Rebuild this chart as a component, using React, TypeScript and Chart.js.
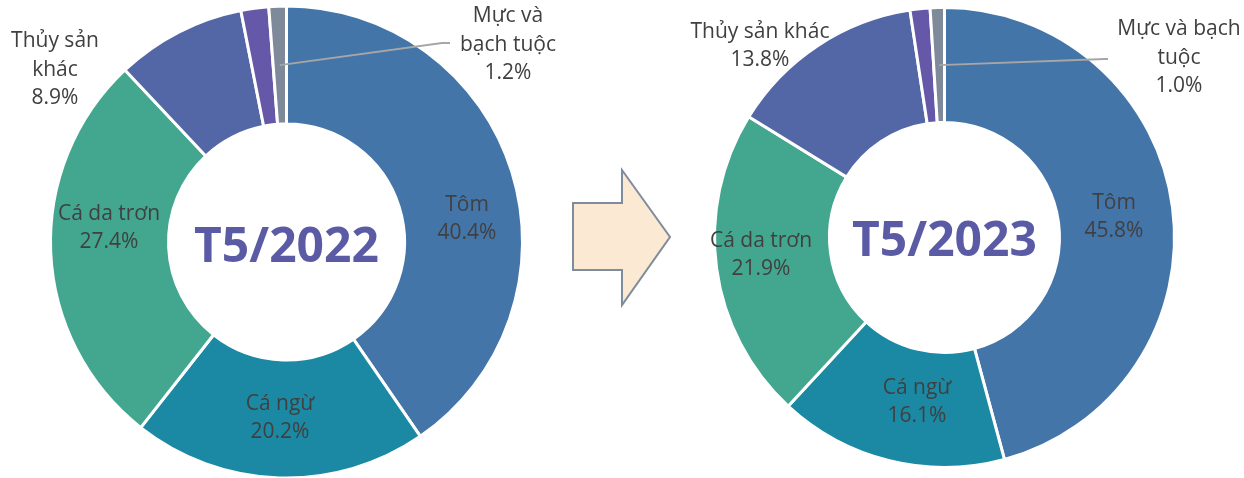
import React, { useEffect, useRef } from "react";
import { Chart, registerables } from "chart.js";

Chart.register(...registerables);

// ---------- data ----------
const categories = ["Tôm", "Cá ngừ", "Cá da trơn", "Thủy sản khác", "Cua ghẹ", "Mực và bạch tuộc"];
const values2022 = [40.4, 20.2, 27.4, 8.9, 1.9, 1.2];
const values2023 = [45.8, 16.1, 21.9, 13.8, 1.4, 1.0];
const titles = ["T5/2022", "T5/2023"];
const labelWrap2022 = [["Tôm"], ["Cá ngừ"], ["Cá da trơn"], ["Thủy sản", "khác"], [], ["Mực và", "bạch tuộc"]];
const labelWrap2023 = [["Tôm"], ["Cá ngừ"], ["Cá da trơn"], ["Thủy sản khác"], [], ["Mực và bạch", "tuộc"]];

// ---------- style / layout ----------
const colors = ["#4475A9", "#1B89A3", "#43A68F", "#5366A6", "#6558A8", "#7E8999"];
const W = 1244;
const H = 478;
const CH = 500;
const FONT = "'Open Sans', 'Noto Sans', sans-serif";

type Layout = {
  padding: { left: number; right: number; top: number; bottom: number };
  labelOffsets: ([number, number] | null)[];
  leader: { index: number; elbow: [number, number]; end: [number, number] };
  titleDy: number;
};

const layouts: Layout[] = [
  {
    padding: { left: 49, right: 720, top: 4.5, bottom: 20.5 },
    labelOffsets: [[180.5, -23], [-6.5, 176], [-177.5, -14], [-231.5, -172], null, [221.5, -197]],
    leader: { index: 5, elbow: [155.5, -199], end: [163.5, -199] },
    titleDy: 20,
  },
  {
    padding: { left: 713, right: 68, top: 6, bottom: 31 },
    labelOffsets: [[169.5, -20.5], [-27.5, 164.5], [-183.5, 17.5], [-184.5, -191.5], null, [234.5, -179.5]],
    leader: { index: 5, elbow: [160, -178.5], end: [163.5, -178.5] },
    titleDy: 18,
  },
];

function makeLabelPlugin(title: string, wrap: string[][], layout: Layout) {
  return {
    id: "donutLabels",
    afterDatasetsDraw(chart: any) {
      const ctx = chart.ctx as CanvasRenderingContext2D;
      const meta = chart.getDatasetMeta(0);
      const arcs = meta.data;
      if (!arcs.length) return;
      const cx = arcs[0].x;
      const cy = arcs[0].y;
      const data = chart.data.datasets[0].data as number[];
      ctx.save();

      // leader line
      const la = arcs[layout.leader.index];
      const p = la.tooltipPosition(false);
      ctx.strokeStyle = "#A6A6A6";
      ctx.lineWidth = 1.8;
      ctx.beginPath();
      ctx.moveTo(p.x, p.y);
      ctx.lineTo(cx + layout.leader.elbow[0], cy + layout.leader.elbow[1]);
      ctx.lineTo(cx + layout.leader.end[0], cy + layout.leader.end[1]);
      ctx.stroke();

      // labels
      ctx.fillStyle = "#404040";
      ctx.font = `21px ${FONT}`;
      ctx.textAlign = "center";
      ctx.textBaseline = "middle";
      const lh = 28.5;
      data.forEach((v, i) => {
        const off = layout.labelOffsets[i];
        if (!off) return;
        const lines = [...wrap[i], v.toFixed(1) + "%"];
        const bx = cx + off[0];
        const by = cy + off[1];
        const y0 = by - ((lines.length - 1) * lh) / 2;
        lines.forEach((t, k) => ctx.fillText(t, bx, y0 + k * lh));
      });

      // centre title
      ctx.fillStyle = "#5B5BA5";
      ctx.font = `bold 48px ${FONT}`;
      ctx.textBaseline = "alphabetic";
      ctx.fillText(title, cx, cy + layout.titleDy);
      ctx.restore();
    },
  };
}

function Donut({ values, title, wrap, layout }: { values: number[]; title: string; wrap: string[][]; layout: Layout }) {
  const ref = useRef<HTMLCanvasElement | null>(null);
  useEffect(() => {
    if (!ref.current) return;
    const chart = new Chart(ref.current, {
      type: "doughnut",
      data: {
        labels: categories,
        datasets: [
          {
            data: values,
            backgroundColor: colors,
            borderColor: "#FFFFFF",
            borderWidth: 3,
          },
        ],
      },
      options: {
        animation: false,
        responsive: false,
        maintainAspectRatio: false,
        cutout: "50%",
        layout: { padding: layout.padding },
        plugins: { legend: { display: false }, tooltip: { enabled: false } },
      },
      plugins: [makeLabelPlugin(title, wrap, layout)],
    });
    return () => chart.destroy();
  }, [values, title, wrap, layout]);
  return (
    <canvas
      ref={ref}
      width={W}
      height={CH}
      style={{ position: "absolute", left: 0, top: 0, width: W, height: CH }}
    />
  );
}

export default function App() {
  return (
    <div
      style={{
        position: "fixed",
        left: 0,
        top: 0,
        width: W,
        height: H,
        overflow: "hidden",
        background: "#FFFFFF",
      }}
    >
      <svg width={W} height={H} style={{ position: "absolute", left: 0, top: 0 }}>
        <polygon
          points="573,203 622,203 622,170 670,237 622,305 622,270 573,270"
          fill="#FCE9D3"
          stroke="#7F8C9B"
          strokeWidth={2}
          strokeLinejoin="miter"
        />
      </svg>
      <Donut values={values2022} title={titles[0]} wrap={labelWrap2022} layout={layouts[0]} />
      <Donut values={values2023} title={titles[1]} wrap={labelWrap2023} layout={layouts[1]} />
    </div>
  );
}
